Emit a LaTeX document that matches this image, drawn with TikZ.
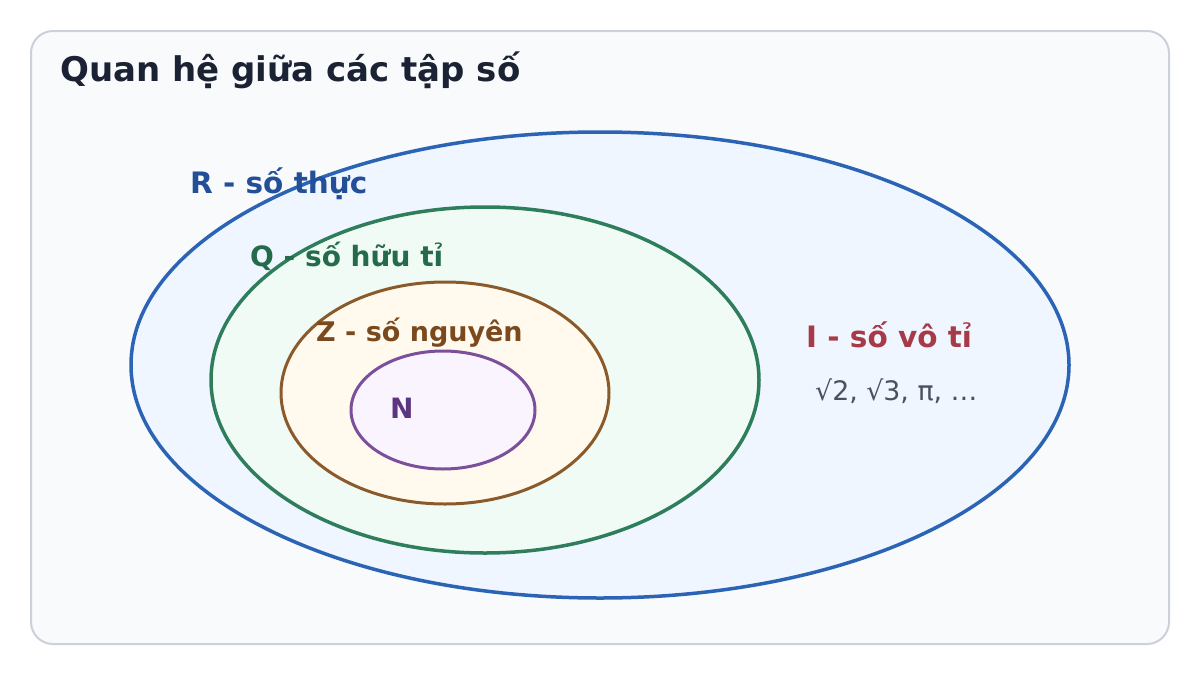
\documentclass[tikz,border=0pt]{standalone}
\usepackage{fontspec}
\setmainfont{DejaVu Sans}
\definecolor{frameline}{HTML}{CBD0DA}
\definecolor{framefill}{HTML}{F8FAFC}
\definecolor{titlecol}{HTML}{1A2233}
\definecolor{rline}{HTML}{2B63B5}
\definecolor{rfill}{HTML}{EFF6FF}
\definecolor{rtext}{HTML}{234F99}
\definecolor{qline}{HTML}{2E7D5B}
\definecolor{qfill}{HTML}{F0FBF5}
\definecolor{qtext}{HTML}{246B4C}
\definecolor{zline}{HTML}{8B5A2B}
\definecolor{zfill}{HTML}{FFF9EE}
\definecolor{ztext}{HTML}{7A4A1E}
\definecolor{nline}{HTML}{7B4F9A}
\definecolor{nfill}{HTML}{FAF4FF}
\definecolor{ntext}{HTML}{5B3580}
\definecolor{itext}{HTML}{A63A47}
\definecolor{exttext}{HTML}{4A5060}
\begin{document}
\begin{tikzpicture}[x=1pt,y=-1pt,
  setlabel/.style={anchor=base west,inner sep=0pt,font=\fontsize{28}{32}\selectfont\bfseries},
  setshape/.style={line width=3.5pt}]
\useasboundingbox (0,0) rectangle (1200,675);
\fill[white] (0,0) rectangle (1200,675);
\draw[frameline,fill=framefill,line width=2pt,rounded corners=22pt] (31,31) rectangle (1169,644);
\node[anchor=base west,inner sep=0pt,text=titlecol,font=\fontsize{34}{40}\selectfont\bfseries] (title) at (60,81.5) {Quan hệ giữa các tập số};
\draw[setshape,draw=rline,fill=rfill] (600,365) ellipse [x radius=469,y radius=233];
\draw[setshape,draw=qline,fill=qfill] (485,380) ellipse [x radius=274,y radius=173];
\draw[setshape,draw=zline,fill=zfill,line width=3pt] (445,393) ellipse [x radius=164,y radius=111];
\draw[setshape,draw=nline,fill=nfill,line width=3pt] (443,410) ellipse [x radius=92,y radius=59];
\node[setlabel,text=rtext,font=\fontsize{29.5}{34}\selectfont\bfseries] (rlab) at (190,193) {R - số thực};
\node[setlabel,text=qtext] (qlab) at (250,266.5) {Q - số hữu tỉ};
\node[setlabel,text=ztext,font=\fontsize{27}{31}\selectfont\bfseries] (zlab) at (316,341.5) {Z - số nguyên};
\node[setlabel,text=ntext] (nlab) at (390,418) {N};
\node[setlabel,text=itext,font=\fontsize{29.5}{34}\selectfont\bfseries] (ilab) at (806,347.5) {I - số vô tỉ};
\node[anchor=base west,inner sep=0pt,text=exttext,font=\fontsize{26.8}{31}\selectfont] (iex) at (815,400.5) {√2, √3, π, …};
\end{tikzpicture}
\end{document}
